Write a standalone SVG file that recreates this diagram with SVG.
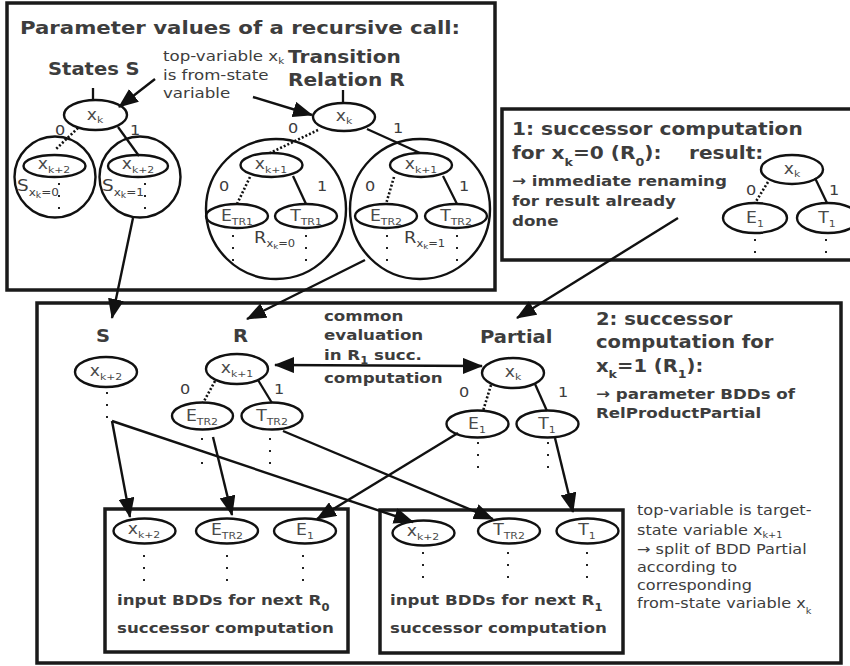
<svg xmlns="http://www.w3.org/2000/svg" width="850" height="666" viewBox="0 0 850 666">
<defs>
<style>
.t{font-family:"DejaVu Sans","Liberation Sans",sans-serif;fill:#3d3d3d}
.b{font-weight:bold}
.h0{font-size:18.5px}
.h1{font-size:17.5px}
.h2{font-size:17px}
.h3{font-size:14.5px}
.r{font-size:14px}
.lb{font-size:15px;fill:#4a4a4a;text-anchor:middle}
.sb{font-size:9.5px}
.box{fill:none;stroke:#1a1a1a;stroke-width:3.5}
.el{fill:none;stroke:#111;stroke-width:2.4}
.ln{fill:none;stroke:#111;stroke-width:2.3}
.dt{fill:none;stroke:#111;stroke-width:2.6;stroke-dasharray:2 2}
.vd{fill:none;stroke:#222;stroke-width:2;stroke-dasharray:2 10}
.ar{fill:none;stroke:#111;stroke-width:2.4;marker-end:url(#ah)}
.ar2{fill:none;stroke:#111;stroke-width:2.4;marker-end:url(#ah);marker-start:url(#ahs)}
</style>
<marker id="ah" viewBox="0 0 20 16" markerWidth="20" markerHeight="16" refX="19" refY="8" orient="auto" markerUnits="userSpaceOnUse"><path d="M0,0L20,8L0,16z" fill="#111"/></marker>
<marker id="ahs" viewBox="0 0 20 16" markerWidth="20" markerHeight="16" refX="19" refY="8" orient="auto-start-reverse" markerUnits="userSpaceOnUse"><path d="M0,0L20,8L0,16z" fill="#111"/></marker>
</defs>

<!-- frames -->
<g id="frames">
<rect class="box" x="7" y="3" width="488" height="287"/>
<rect class="box" x="502" y="109" width="354" height="151"/>
<rect class="box" x="37" y="303" width="804" height="360"/>
<rect class="box" x="105" y="509" width="243" height="143"/>
<rect class="box" x="380" y="510" width="243" height="143"/>
</g>

<!-- top-left panel texts -->
<g id="panel1-text">
<text class="t b h0" transform="translate(20,34) scale(1.15,1)">Parameter values of a recursive call:</text>
<text class="t b h2" transform="translate(48,75) scale(1.15,1)">States S</text>
<text class="t h3" transform="translate(163,61) scale(1.15,1)">top-variable x<tspan font-size="9" dy="3">k</tspan></text>
<text class="t h3" transform="translate(163,80) scale(1.15,1)">is from-state</text>
<text class="t h3" transform="translate(163,98) scale(1.15,1)">variable</text>
<text class="t b h1" transform="translate(288,63) scale(1.15,1)">Transition</text>
<text class="t b h1" transform="translate(288,86) scale(1.15,1)">Relation R</text>
</g>

<!-- States S BDD -->
<g id="s-xk">
<ellipse class="el" cx="95.5" cy="115" rx="31.5" ry="15"/>
<text class="t lb" transform="translate(95,120) scale(1.15,1)">x<tspan class="sb" dy="3">k</tspan></text>
</g>
<g id="s-sub0">
<circle class="el" cx="55" cy="177" r="40.5"/>
<ellipse class="el" cx="54.5" cy="166" rx="31" ry="11"/>
<text class="t lb" transform="translate(54,169) scale(1.15,1)">x<tspan class="sb" dy="4">k+2</tspan></text>
<text class="t" font-size="16" transform="translate(17,191) scale(1.15,1)">S<tspan font-size="10.5" dy="5">x</tspan><tspan font-size="8" dy="2">k</tspan><tspan font-size="10.5" dy="-2">=0</tspan></text>
<path class="vd" d="M59,183V209"/>
</g>
<g id="s-sub1">
<circle class="el" cx="140" cy="177" r="40.5"/>
<ellipse class="el" cx="138" cy="166" rx="30" ry="11"/>
<text class="t lb" transform="translate(138,169) scale(1.15,1)">x<tspan class="sb" dy="4">k+2</tspan></text>
<text class="t" font-size="16" transform="translate(102,191) scale(1.15,1)">S<tspan font-size="10.5" dy="5">x</tspan><tspan font-size="8" dy="2">k</tspan><tspan font-size="10.5" dy="-2">=1</tspan></text>
<path class="vd" d="M145,183V209"/>
</g>

<!-- Transition relation BDD -->
<g id="r-xk">
<ellipse class="el" cx="344" cy="117" rx="31" ry="14"/>
<text class="t lb" transform="translate(344,121) scale(1.15,1)">x<tspan class="sb" dy="3">k</tspan></text>
</g>
<g id="r-sub0">
<circle class="el" cx="276" cy="209" r="70"/>
<ellipse class="el" cx="271.5" cy="165" rx="31" ry="12"/>
<text class="t lb" transform="translate(271,169) scale(1.15,1)">x<tspan class="sb" dy="4">k+1</tspan></text>
<ellipse class="el" cx="237" cy="216" rx="31" ry="12"/>
<text class="t lb" transform="translate(237,221) scale(1.15,1)">E<tspan class="sb" dy="4">TR1</tspan></text>
<ellipse class="el" cx="306" cy="216" rx="31" ry="12"/>
<text class="t lb" transform="translate(306,221) scale(1.15,1)">T<tspan class="sb" dy="4">TR1</tspan></text>
<text class="t" font-size="15.5" transform="translate(254,243) scale(1.15,1)">R<tspan font-size="10" dy="4">x</tspan><tspan font-size="7.5" dy="2">k</tspan><tspan font-size="10" dy="-2">=0</tspan></text>
<path class="vd" d="M233,235V261M306,235V261"/>
</g>
<g id="r-sub1">
<circle class="el" cx="420" cy="209" r="70"/>
<ellipse class="el" cx="421" cy="165" rx="31" ry="12"/>
<text class="t lb" transform="translate(421,169) scale(1.15,1)">x<tspan class="sb" dy="4">k+1</tspan></text>
<ellipse class="el" cx="386" cy="216" rx="31" ry="12"/>
<text class="t lb" transform="translate(386,221) scale(1.15,1)">E<tspan class="sb" dy="4">TR2</tspan></text>
<ellipse class="el" cx="456" cy="216" rx="31" ry="12"/>
<text class="t lb" transform="translate(456,221) scale(1.15,1)">T<tspan class="sb" dy="4">TR2</tspan></text>
<text class="t" font-size="15.5" transform="translate(404,243) scale(1.15,1)">R<tspan font-size="10" dy="4">x</tspan><tspan font-size="7.5" dy="2">k</tspan><tspan font-size="10" dy="-2">=1</tspan></text>
<path class="vd" d="M387,235V261M457,235V261"/>
</g>

<!-- panel 1: result -->
<g id="panel2-text">
<text class="t b h1" transform="translate(512,135) scale(1.15,1)">1: successor computation</text>
<text class="t b h1" transform="translate(512,159) scale(1.15,1)">for x<tspan font-size="11" dy="7">k</tspan><tspan dy="-7">=0 (R</tspan><tspan font-size="11" dy="7">0</tspan><tspan dy="-7">):</tspan></text>
<text class="t b h1" transform="translate(689,159) scale(1.15,1)">result:</text>
<text class="t b h3" transform="translate(512,186) scale(1.15,1)">→ immediate renaming</text>
<text class="t b h3" transform="translate(512,206) scale(1.15,1)">for result already</text>
<text class="t b h3" transform="translate(512,226) scale(1.15,1)">done</text>
</g>
<g id="res-xk">
<ellipse class="el" cx="792" cy="169.5" rx="31" ry="14.5"/>
<text class="t lb" transform="translate(792,174) scale(1.15,1)">x<tspan class="sb" dy="3">k</tspan></text>
</g>
<g id="res-e1">
<ellipse class="el" cx="755" cy="218" rx="32" ry="15"/>
<text class="t lb" transform="translate(755,223) scale(1.15,1)">E<tspan class="sb" dy="4">1</tspan></text>
<path class="vd" d="M755,239V253"/>
</g>
<g id="res-t1">
<ellipse class="el" cx="828" cy="218" rx="31" ry="15"/>
<text class="t lb" transform="translate(827,223) scale(1.15,1)">T<tspan class="sb" dy="4">1</tspan></text>
<path class="vd" d="M826,239V253"/>
</g>

<!-- bottom panel texts -->
<g id="panel3-text">
<text class="t b h2" transform="translate(96,342) scale(1.15,1)">S</text>
<text class="t b h2" transform="translate(233,342) scale(1.15,1)">R</text>
<text class="t b h2" transform="translate(480,343) scale(1.15,1)">Partial</text>
<text class="t b h3" transform="translate(324,321) scale(1.15,1)">common</text>
<text class="t b h3" transform="translate(324,340) scale(1.15,1)">evaluation</text>
<text class="t b h3" transform="translate(324,360) scale(1.15,1)">in R<tspan font-size="10" dy="4">1</tspan><tspan dy="-4"> succ.</tspan></text>
<text class="t b h3" transform="translate(324,383) scale(1.15,1)">computation</text>
<text class="t b h2" transform="translate(596,325) scale(1.15,1)">2: successor</text>
<text class="t b h2" transform="translate(596,348) scale(1.15,1)">computation for</text>
<text class="t b h2" transform="translate(596,372) scale(1.15,1)">x<tspan font-size="11" dy="6">k</tspan><tspan dy="-6">=1 (R</tspan><tspan font-size="11" dy="6">1</tspan><tspan dy="-6">):</tspan></text>
<text class="t b h3" transform="translate(596,399) scale(1.15,1)">→ parameter BDDs of</text>
<text class="t b h3" transform="translate(596,418) scale(1.15,1)">RelProductPartial</text>
<text class="t b h3" transform="translate(117,605) scale(1.15,1)">input BDDs for next R<tspan font-size="10" dy="6">0</tspan></text>
<text class="t b h3" transform="translate(117,633) scale(1.15,1)">successor computation</text>
<text class="t b h3" transform="translate(390,605) scale(1.15,1)">input BDDs for next R<tspan font-size="10" dy="6">1</tspan></text>
<text class="t b h3" transform="translate(390,633) scale(1.15,1)">successor computation</text>
<text class="t r" transform="translate(637,515) scale(1.15,1)">top-variable is target-</text>
<text class="t r" transform="translate(637,535) scale(1.15,1)">state variable x<tspan font-size="8.5" dy="3">k+1</tspan></text>
<text class="t r" transform="translate(637,554) scale(1.15,1)">→ split of BDD Partial</text>
<text class="t r" transform="translate(637,572) scale(1.15,1)">according to</text>
<text class="t r" transform="translate(637,590) scale(1.15,1)">corresponding</text>
<text class="t r" transform="translate(637,608) scale(1.15,1)">from-state variable x<tspan font-size="8.5" dy="6">k</tspan></text>
</g>

<!-- bottom panel BDDs -->
<g id="b-s">
<ellipse class="el" cx="106" cy="372" rx="31" ry="15"/>
<text class="t lb" transform="translate(106,376) scale(1.15,1)">x<tspan class="sb" dy="4">k+2</tspan></text>
<path class="vd" d="M107,392V418"/>
</g>
<g id="b-r-xk1">
<ellipse class="el" cx="237" cy="369" rx="31" ry="15"/>
<text class="t lb" transform="translate(237,373) scale(1.15,1)">x<tspan class="sb" dy="4">k+1</tspan></text>
</g>
<g id="b-r-etr2">
<ellipse class="el" cx="202.5" cy="416" rx="30.5" ry="13.5"/>
<text class="t lb" transform="translate(202,421) scale(1.15,1)">E<tspan class="sb" dy="4">TR2</tspan></text>
<path class="vd" d="M202,438V464"/>
</g>
<g id="b-r-ttr2">
<ellipse class="el" cx="272" cy="416" rx="30.5" ry="13.5"/>
<text class="t lb" transform="translate(272,421) scale(1.15,1)">T<tspan class="sb" dy="4">TR2</tspan></text>
<path class="vd" d="M270,438V464"/>
</g>
<g id="b-p-xk">
<ellipse class="el" cx="513" cy="373" rx="31" ry="15"/>
<text class="t lb" transform="translate(513,377) scale(1.15,1)">x<tspan class="sb" dy="3">k</tspan></text>
</g>
<g id="b-p-e1">
<ellipse class="el" cx="477.5" cy="424" rx="31" ry="13.5"/>
<text class="t lb" transform="translate(477,429) scale(1.15,1)">E<tspan class="sb" dy="4">1</tspan></text>
<path class="vd" d="M478,442V468"/>
</g>
<g id="b-p-t1">
<ellipse class="el" cx="547.5" cy="424" rx="31" ry="13.5"/>
<text class="t lb" transform="translate(547,429) scale(1.15,1)">T<tspan class="sb" dy="4">1</tspan></text>
<path class="vd" d="M548,442V468"/>
</g>

<!-- next R0 inputs -->
<g id="n0-x">
<ellipse class="el" cx="144.5" cy="531" rx="31" ry="12.5"/>
<text class="t lb" transform="translate(144,534) scale(1.15,1)">x<tspan class="sb" dy="4">k+2</tspan></text>
<path class="vd" d="M144,555V581"/>
</g>
<g id="n0-e">
<ellipse class="el" cx="227" cy="531" rx="31" ry="12.5"/>
<text class="t lb" transform="translate(227,535) scale(1.15,1)">E<tspan class="sb" dy="4">TR2</tspan></text>
<path class="vd" d="M227,555V581"/>
</g>
<g id="n0-e1">
<ellipse class="el" cx="305" cy="531" rx="31" ry="12.5"/>
<text class="t lb" transform="translate(305,535) scale(1.15,1)">E<tspan class="sb" dy="4">1</tspan></text>
<path class="vd" d="M303,555V581"/>
</g>
<!-- next R1 inputs -->
<g id="n1-x">
<ellipse class="el" cx="423.5" cy="533" rx="31" ry="12.5"/>
<text class="t lb" transform="translate(423,536) scale(1.15,1)">x<tspan class="sb" dy="4">k+2</tspan></text>
<path class="vd" d="M423,552V578"/>
</g>
<g id="n1-t">
<ellipse class="el" cx="509" cy="531" rx="31" ry="12.5"/>
<text class="t lb" transform="translate(509,535) scale(1.15,1)">T<tspan class="sb" dy="4">TR2</tspan></text>
<path class="vd" d="M508,552V578"/>
</g>
<g id="n1-t1">
<ellipse class="el" cx="587.5" cy="531" rx="31" ry="12.5"/>
<text class="t lb" transform="translate(587,535) scale(1.15,1)">T<tspan class="sb" dy="4">1</tspan></text>
<path class="vd" d="M587,552V578"/>
</g>

<!-- connectors -->
<g id="connectors">
<path class="ln" d="M93,88V100"/>
<path class="dt" d="M78,128L56,149"/>
<path class="ln" d="M118,127L139,156"/>
<text class="t r" transform="translate(55,135) scale(1.15,1)">0</text>
<text class="t r" transform="translate(130,135) scale(1.15,1)">1</text>
<path class="ln" d="M343,90V103"/>
<path class="dt" d="M318,130L270,153"/>
<path class="ln" d="M367,129L420,153"/>
<text class="t r" transform="translate(288,133) scale(1.15,1)">0</text>
<text class="t r" transform="translate(393,133) scale(1.15,1)">1</text>
<path class="dt" d="M250,177L237,204"/>
<path class="ln" d="M293,176L306,204"/>
<text class="t r" transform="translate(219,191) scale(1.15,1)">0</text>
<text class="t r" transform="translate(317,191) scale(1.15,1)">1</text>
<path class="dt" d="M394,177L386,204"/>
<path class="ln" d="M443,176L457,204"/>
<text class="t r" transform="translate(365,191) scale(1.15,1)">0</text>
<text class="t r" transform="translate(459,191) scale(1.15,1)">1</text>
<path class="dt" d="M768,182L755,203"/>
<path class="ln" d="M815,178L827,203"/>
<text class="t r" transform="translate(746,195) scale(1.15,1)">0</text>
<text class="t r" transform="translate(829,195) scale(1.15,1)">1</text>
<path class="dt" d="M215,381L203,403"/>
<path class="ln" d="M258,380L272,403"/>
<text class="t r" transform="translate(180,394) scale(1.15,1)">0</text>
<text class="t r" transform="translate(274,394) scale(1.15,1)">1</text>
<path class="dt" d="M491,385L483,411"/>
<path class="ln" d="M535,384L547,411"/>
<text class="t r" transform="translate(459,397) scale(1.15,1)">0</text>
<text class="t r" transform="translate(558,397) scale(1.15,1)">1</text>
<path class="ar" d="M155,79L119,107"/>
<path class="ar" d="M253,97L312,115"/>
<path class="ar" d="M133,218L112,318"/>
<path class="ar" d="M365,260L247,319"/>
<path class="ar" d="M678,218L517,318"/>
<path class="ar2" d="M275,365L482,366"/>
<path class="ar" d="M112,421L130,517"/>
<path class="ar" d="M112,421L413,522"/>
<path class="ar" d="M213,437L232,515"/>
<path class="ar" d="M283,431L493,519"/>
<path class="ar" d="M458,433L317,519"/>
<path class="ar" d="M555,438L573,512"/>
</g>
</svg>
